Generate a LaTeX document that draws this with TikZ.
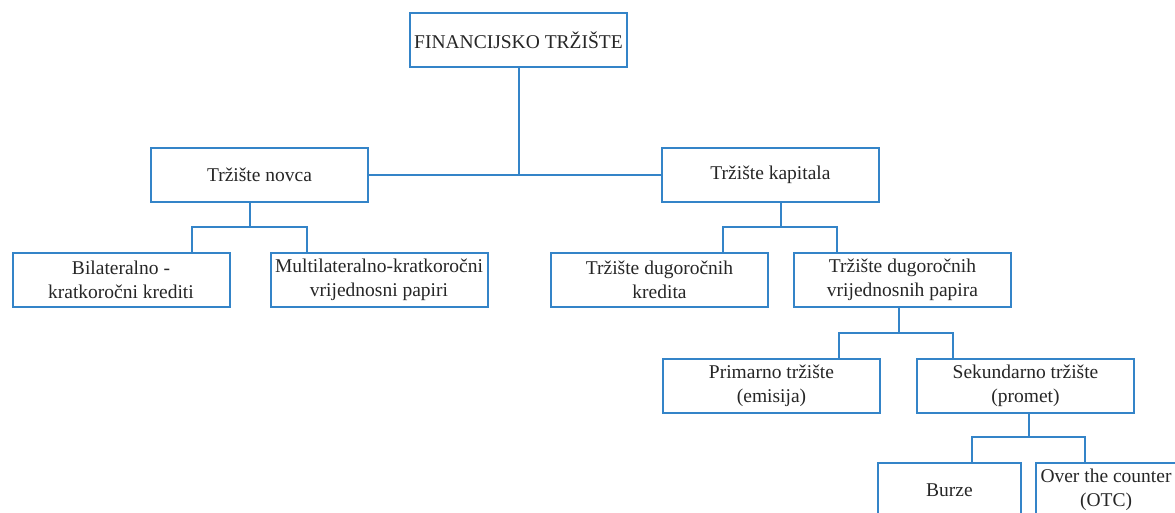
\documentclass[tikz,border=0pt]{standalone}
\usepackage{fontspec}
\setmainfont{Liberation Serif}
\usetikzlibrary{calc}

\definecolor{lineblue}{RGB}{52,132,200}

\tikzset{
	box/.style={draw=lineblue, line width=2pt, text=black!85, align=center,
		minimum width=217pt, minimum height=54pt, inner sep=0pt,
		font=\fontsize{19.5}{24}\selectfont},
	smallbox/.style={box, minimum width=#1},
	link/.style={draw=lineblue, line width=2pt}
}

\begin{document}
\begin{tikzpicture}[x=1pt, y=-1pt]

	\useasboundingbox (0,0) rectangle (1175,513);
	\clip (0,0) rectangle (1175,513);

% Define nodes.

	%top
	\node[box] (fin) at (518.5, 40.5) {FINANCIJSKO TRŽIŠTE};

	%markets
	\node[box] (novca) at (259.5, 175) {Tržište novca};
	\node[box] (kapitala) at (770.5, 175) {Tržište kapitala};

	%money market
	\node[box] (bil) at (121, 280) {Bilateralno -\\kratkoročni krediti};
	\node[box] (mult) at (379, 280) {Multilateralno-kratkoročni\\vrijednosni papiri};

	%capital market
	\node[box] (kredita) at (659.5, 280) {Tržište dugoročnih\\kredita};
	\node[box] (papira) at (902.5, 280) {Tržište dugoročnih\\vrijednosnih papira};

	%securities
	\node[box] (primarno) at (771.5, 385.5) {Primarno tržište\\(emisija)};
	\node[box] (sekundarno) at (1025.5, 385.5) {Sekundarno tržište\\(promet)};

	%trading
	\node[smallbox=143pt] (burze) at (949.5, 490) {Burze};
	\node[smallbox=140pt] (otc) at (1106, 490) {Over the counter\\(OTC)};

% Define fork points.

	\coordinate (novcaFork) at (250, 227);
	\coordinate (bilDrop) at (192, 227);
	\coordinate (multDrop) at (307, 227);

	\coordinate (kapitalaFork) at (781, 227);
	\coordinate (kreditaDrop) at (723, 227);
	\coordinate (papiraDrop) at (837, 227);

	\coordinate (papiraFork) at (899, 333);
	\coordinate (primarnoDrop) at (839, 333);
	\coordinate (sekundarnoDrop) at (953, 333);

	\coordinate (sekundarnoFork) at (1029, 437);
	\coordinate (burzeDrop) at (972, 437);
	\coordinate (otcDrop) at (1085, 437);

% Draw links.

	\draw[link] (novca.east) -- (kapitala.west);
	\draw[link] (fin.south) -- (fin.south |- novca.east);

	\draw[link] (novca.south -| novcaFork) -- (novcaFork);
	\draw[link] (bil.north -| bilDrop) -- (bilDrop) -- (multDrop) -- (mult.north -| multDrop);

	\draw[link] (kapitala.south -| kapitalaFork) -- (kapitalaFork);
	\draw[link] (kredita.north -| kreditaDrop) -- (kreditaDrop) -- (papiraDrop) -- (papira.north -| papiraDrop);

	\draw[link] (papira.south -| papiraFork) -- (papiraFork);
	\draw[link] (primarno.north -| primarnoDrop) -- (primarnoDrop) -- (sekundarnoDrop) -- (sekundarno.north -| sekundarnoDrop);

	\draw[link] (sekundarno.south -| sekundarnoFork) -- (sekundarnoFork);
	\draw[link] (burze.north -| burzeDrop) -- (burzeDrop) -- (otcDrop) -- (otc.north -| otcDrop);

\end{tikzpicture}
\end{document}
